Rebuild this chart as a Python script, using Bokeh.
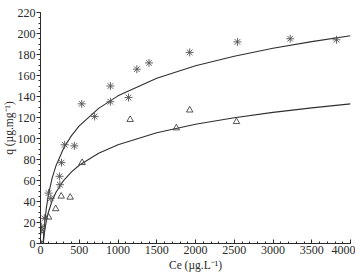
from bokeh.plotting import figure
from bokeh.models import Range1d, SingleIntervalTicker, Title
from bokeh.embed import file_html
from bokeh.resources import INLINE

# Adsorption data: equilibrium concentration Ce (µg/L) vs uptake q (µg/mg)
ce_star = [0, 5, 15, 50, 104, 133, 246, 250, 271, 312, 437, 532, 698, 902, 902,
           1136, 1243, 1400, 1925, 2541, 3222, 3819]
q_star = [0, 12, 16, 24, 48, 43, 64, 56, 77, 94, 93, 133, 121, 150, 135,
          139, 166, 172, 182, 192, 195, 194]

ce_tri = [0, 8, 104, 196, 267, 383, 537, 1157, 1753, 1925, 2529]
q_tri = [0, 12, 25, 33, 45, 44, 77, 118, 110, 127, 116]

# Isotherm curves, sampled along Ce
ce_curve = [35, 50, 75, 100, 150, 200, 300, 400, 500, 750, 1000, 1500,
            2000, 2500, 3000, 3500, 4000]
q_curve_star = [2.1, 16.9, 33.6, 45.5, 62.3, 74.1, 90.9, 102.7, 112.0, 128.7,
                140.6, 157.3, 169.2, 178.4, 186.0, 192.3, 197.9]
ce_curve_tri = [36, 50, 75, 100, 150, 200, 300, 400, 500, 750, 1000, 1500,
                2000, 2500, 3000, 3500, 4000]
q_curve_tri = [0.0, 9.8, 21.2, 29.3, 40.7, 48.8, 60.2, 68.2, 74.5, 85.9,
               94.0, 105.4, 113.5, 119.7, 124.9, 129.2, 133.0]

FONT = "Liberation Serif"
INK = "#2a2a2a"

p = figure(width=355, height=278, output_backend="svg", toolbar_location=None,
           x_range=Range1d(0, 4000), y_range=Range1d(0, 220),
           min_border_left=0, min_border_right=5, min_border_top=12,
           min_border_bottom=35)
p.outline_line_color = None
p.xgrid.visible = False
p.ygrid.visible = False
p.background_fill_color = "white"
p.border_fill_color = "white"

p.line(ce_curve, q_curve_star, line_color="#2f2f2f", line_width=1.1)
p.line(ce_curve_tri, q_curve_tri, line_color="#2f2f2f", line_width=1.1)

p.scatter(ce_star, q_star, marker="asterisk", size=8, line_color="#555555",
          line_width=0.9)
p.scatter(ce_tri, q_tri, marker="triangle", size=6.5, fill_color=None,
          line_color="#444444", line_width=0.9)

# x axis
xa = p.xaxis[0]
xa.ticker = SingleIntervalTicker(interval=500, num_minor_ticks=5)
xa.axis_label = "Ce (µg.L⁻¹)"
xa.major_tick_in = 4
xa.major_tick_out = 0
xa.minor_tick_in = 2
xa.minor_tick_out = 0
xa.axis_label_standoff = 2
xa.major_label_standoff = 2

# y axis (its title sits in the left panel)
ya = p.yaxis[0]
ya.ticker = SingleIntervalTicker(interval=20, num_minor_ticks=4)
ya.major_tick_in = 0
ya.major_tick_out = 4
ya.minor_tick_in = 0
ya.minor_tick_out = 2
ya.major_label_standoff = 1

ytitle = Title(text="q (µg.mg⁻¹)", align="center", text_font=FONT,
               text_font_size="11.5px", text_font_style="normal",
               text_color=INK, standoff=0, offset=0)
p.add_layout(ytitle, "left")

for ax in (xa, ya):
    ax.axis_line_color = INK
    ax.major_tick_line_color = INK
    ax.minor_tick_line_color = INK
    ax.major_label_text_font = FONT
    ax.major_label_text_font_size = "12px"
    ax.major_label_text_color = INK
    ax.axis_label_text_font = FONT
    ax.axis_label_text_font_size = "11.5px"
    ax.axis_label_text_font_style = "normal"
    ax.axis_label_text_color = INK

open("out.html", "w").write(file_html(p, INLINE))
